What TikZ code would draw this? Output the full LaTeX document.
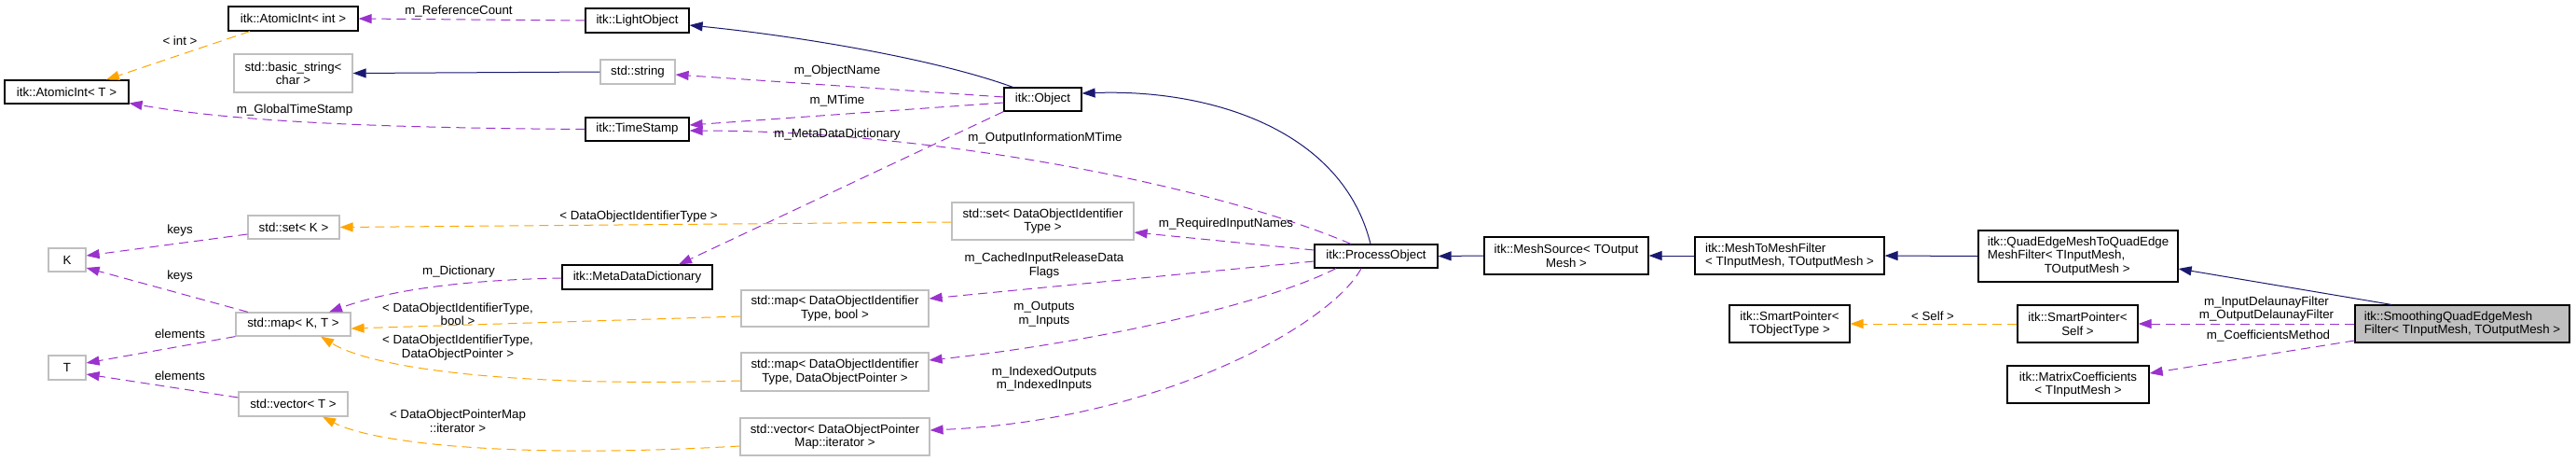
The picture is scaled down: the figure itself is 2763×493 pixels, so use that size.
\documentclass[tikz,border=0pt]{standalone}
\usepackage{fontspec}
\setmainfont{Liberation Sans}
\usepackage{tikz}
\usetikzlibrary{arrows.meta}
\usepackage{xcolor}
\definecolor{inhblue}{HTML}{191970}
\definecolor{memberpurple}{HTML}{9A32CD}
\definecolor{tmplorange}{HTML}{FFA500}
\definecolor{nodegray}{HTML}{BFBFBF}

\begin{document}
\begin{tikzpicture}[x=1pt, y=-1pt,
    every node/.style={font=\fontsize{13.3}{14.5}\selectfont},
    cls/.style={rectangle, draw=black, line width=1.2pt, inner sep=0pt, align=center},
    ext/.style={cls, draw=nodegray},
    lbl/.style={inner sep=0pt, align=center},
    inhline/.style={draw=inhblue, line width=1pt, -{Triangle[length=14pt,width=10pt]}},
    memberline/.style={draw=memberpurple, line width=1pt, dash pattern=on 10pt off 6pt, -{Triangle[length=14pt,width=10pt]}},
    tmplline/.style={memberline, draw=tmplorange}]
    \useasboundingbox (0,0) rectangle (2763,493);

    % Column 1
    \node[cls, minimum width=133, minimum height=25] (atT) at (71.5,98.5) {itk::AtomicInt< T >};
    \node[ext, minimum width=40, minimum height=25] (K) at (72,278.5) {K};
    \node[ext, minimum width=40, minimum height=26] (T) at (72,394) {T};

    % Column 2
    \node[cls, minimum width=139, minimum height=26] (aint) at (314.5,20) {itk::AtomicInt< int >};
    \node[ext, minimum width=127, minimum height=41] (bstr) at (314.5,78.5) {std::basic\_string<\\char >};
    \node[ext, minimum width=98, minimum height=25] (setK) at (315,243.5) {std::set< K >};
    \node[ext, minimum width=123, minimum height=25] (mapKT) at (314.5,347.5) {std::map< K, T >};
    \node[ext, minimum width=117, minimum height=26] (vecT) at (314.5,433) {std::vector< T >};

    % Column 3
    \node[cls, minimum width=111, minimum height=26] (lobj) at (683.5,22) {itk::LightObject};
    \node[ext, minimum width=80, minimum height=26] (str) at (684,77) {std::string};
    \node[cls, minimum width=111, minimum height=25] (tstamp) at (683.5,138.5) {itk::TimeStamp};
    \node[cls, minimum width=161, minimum height=26] (mdd) at (683.5,297) {itk::MetaDataDictionary};

    % Column 4
    \node[ext, minimum width=201, minimum height=39] (mapBool) at (895.5,330.5) {std::map< DataObjectIdentifier\\Type, bool >};
    \node[ext, minimum width=201, minimum height=41] (mapDOP) at (895.5,398.5) {std::map< DataObjectIdentifier\\Type, DataObjectPointer >};
    \node[ext, minimum width=203, minimum height=40] (vecIt) at (895.5,468) {std::vector< DataObjectPointer\\Map::iterator >};

    % Column 5
    \node[cls, minimum width=83, minimum height=25] (obj) at (1118.5,106.5) {itk::Object};
    \node[ext, minimum width=195, minimum height=40] (setDOI) at (1118.5,237) {std::set< DataObjectIdentifier\\Type >};

    % Filter chain
    \node[cls, minimum width=132, minimum height=25] (pobj) at (1476,274.5) {itk::ProcessObject};
    \node[cls, minimum width=176, minimum height=40] (msrc) at (1680,274) {itk::MeshSource< TOutput\\Mesh >};
    \node[cls, minimum width=203, minimum height=40, align=left] (m2m) at (1919.5,274) {itk::MeshToMeshFilter\\< TInputMesh, TOutputMesh >};
    \node[cls, minimum width=129, minimum height=40] (spTO) at (1919.5,347) {itk::SmartPointer<\\TObjectType >};
    \node[cls, minimum width=214, minimum height=55, align=left] (qe2qe) at (2229,274.5) {itk::QuadEdgeMeshToQuadEdge\\MeshFilter< TInputMesh,\\\hspace*{61pt}TOutputMesh >};
    \node[cls, minimum width=129, minimum height=40] (spSelf) at (2228.5,347) {itk::SmartPointer<\\Self >};
    \node[cls, minimum width=152, minimum height=40] (mcoef) at (2229,412) {itk::MatrixCoefficients\\< TInputMesh >};
    \node[cls, fill=nodegray, minimum width=230, minimum height=40, align=left] (smooth) at (2641,347) {itk::SmoothingQuadEdgeMesh\\Filter< TInputMesh, TOutputMesh >};

    % Inheritance
    \draw[inhline] (str.west) -- (bstr.east);
    \draw[inhline] ([xshift=10pt]obj.north west) .. controls (1000,62) and (850,38) .. ([yshift=-5pt]lobj.east);
    \draw[inhline] ([xshift=-6pt]pobj.north) .. controls (1440,140) and (1300,95) .. ([yshift=6.5pt]obj.east);
    \draw[inhline] (msrc.west) -- (pobj.east);
    \draw[inhline] (m2m.west) -- (msrc.east);
    \draw[inhline] (qe2qe.west) -- (m2m.east);
    \draw[inhline] ([xshift=-76pt]smooth.north) -- ([yshift=-13.5pt]qe2qe.east);

    % Members
    \draw[memberline] (lobj.west) -- (aint.east);
    \draw[memberline] (tstamp.west) .. controls (400,137) and (250,130) .. ([yshift=-12pt]atT.east);
    \draw[memberline] ([yshift=2.5pt]obj.west) -- ([yshift=-3pt]str.east);
    \draw[memberline] ([yshift=-3.5pt]obj.west) -- ([yshift=4.5pt]tstamp.east);
    \draw[memberline] ([xshift=-27pt]pobj.north) .. controls (1300,198) and (1000,140) .. ([yshift=-1.5pt]tstamp.east);
    \draw[memberline] (obj.south west) -- ([xshift=44.5pt]mdd.north);
    \draw[memberline] ([yshift=-1pt]mdd.west) .. controls (500,300) and (420,310) .. ([xshift=38.5pt]mapKT.north);
    \draw[memberline] ([xshift=-48.5pt]mapKT.north) -- ([yshift=-8.5pt]K.east);
    \draw[memberline] ([yshift=-7.5pt]setK.west) -- ([yshift=4.5pt]K.east);
    \draw[memberline] (mapKT.south west) -- ([yshift=5pt]T.east);
    \draw[memberline] ([yshift=7pt]vecT.west) -- ([yshift=-7pt]T.east);
    \draw[memberline] ([yshift=6.5pt]pobj.west) -- ([yshift=-12pt]setDOI.east);
    \draw[memberline] ([yshift=-5.5pt]pobj.west) -- ([yshift=10.5pt]mapBool.east);
    \draw[memberline] ([xshift=-43pt]pobj.south) .. controls (1350,330) and (1150,370) .. ([yshift=12.5pt]mapDOP.east);
    \draw[memberline] ([xshift=-16pt]pobj.south) .. controls (1430,345) and (1250,450) .. ([yshift=7pt]vecIt.east);
    \draw[memberline] (smooth.west) -- (spSelf.east);
    \draw[memberline] ([yshift=-18pt]smooth.west) -- ([yshift=12pt]mcoef.east);

    % Template arguments
    \draw[tmplline] ([xshift=-46.5pt]aint.south) -- ([xshift=42.5pt]atT.north);
    \draw[tmplline] ([yshift=-1pt]setDOI.west) -- (setK.east);
    \draw[tmplline] ([yshift=-8.5pt]mapBool.west) -- ([yshift=-4.5pt]mapKT.east);
    \draw[tmplline] ([yshift=-9.5pt]mapDOP.west) .. controls (550,415) and (400,395) .. ([xshift=29.5pt]mapKT.south);
    \draw[tmplline] ([yshift=-10pt]vecIt.west) .. controls (550,492) and (400,475) .. ([xshift=31.5pt]vecT.south);
    \draw[tmplline] (spSelf.west) -- (spTO.east);

    % Labels
    \node[lbl] (lRefCount) at (492,12) {m\_ReferenceCount};
    \node[lbl] (lInt) at (193,44) {< int >};
    \node[lbl] (lGlobal) at (316,118) {m\_GlobalTimeStamp};
    \node[lbl] (lName) at (898,76) {m\_ObjectName};
    \node[lbl] (lMTime) at (898,108) {m\_MTime};
    \node[lbl] (lMeta) at (898,144) {m\_MetaDataDictionary};
    \node[lbl] (lOutInfo) at (1121,148) {m\_OutputInformationMTime};
    \node[lbl] (lSetArg) at (685,232) {< DataObjectIdentifierType >};
    \node[lbl] (lReqNames) at (1315,240) {m\_RequiredInputNames};
    \node[lbl] (lKeysA) at (193,247) {keys};
    \node[lbl] (lKeysB) at (193,296) {keys};
    \node[lbl] (lDict) at (492,291) {m\_Dictionary};
    \node[lbl] (lCached) at (1120,284.5) {m\_CachedInputReleaseData\\Flags};
    \node[lbl] (lMapBool) at (491,336.5) {< DataObjectIdentifierType,\\bool >};
    \node[lbl] (lElemA) at (193,358) {elements};
    \node[lbl] (lElemB) at (193,403) {elements};
    \node[lbl] (lOutputs) at (1120,336.5) {m\_Outputs\\m\_Inputs};
    \node[lbl] (lMapDOP) at (491,372.5) {< DataObjectIdentifierType,\\DataObjectPointer >};
    \node[lbl] (lIndexed) at (1120,406) {m\_IndexedOutputs\\m\_IndexedInputs};
    \node[lbl] (lVecArg) at (491,451) {< DataObjectPointerMap\\::iterator >};
    \node[lbl] (lSelf) at (2073,339) {< Self >};
    \node[lbl] (lDelaunay) at (2431,331) {m\_InputDelaunayFilter\\m\_OutputDelaunayFilter};
    \node[lbl] (lCoef) at (2433,360) {m\_CoefficientsMethod};
\end{tikzpicture}
\end{document}
